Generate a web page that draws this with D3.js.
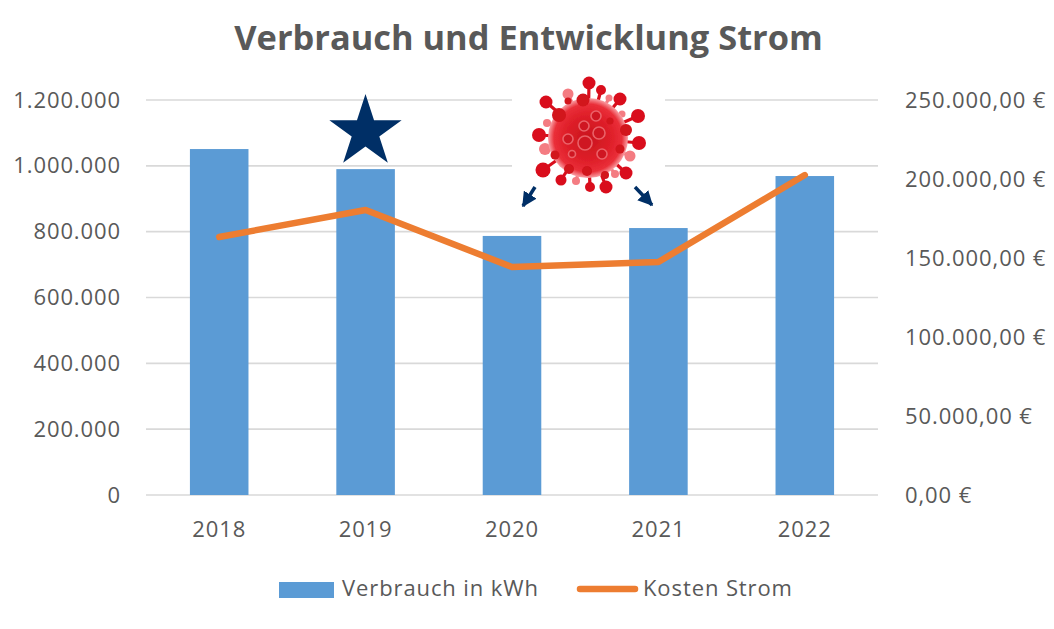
<!DOCTYPE html>
<html>
<head>
<meta charset="utf-8">
<script src="https://cdn.jsdelivr.net/npm/d3@7"></script>
<style>
  html, body { margin: 0; padding: 0; background: #fff; }
  text { font-family: "Open Sans", sans-serif; fill: #595959; }
  .lbl { font-size: 22px; letter-spacing: 0.9px; }
</style>
</head>
<body>
<svg id="chart" width="1054" height="629"></svg>
<script>
const years = ['2018', '2019', '2020', '2021', '2022'];
const verbrauch = [1051000, 990000, 787000, 811000, 969000];
const kosten = [163300, 180400, 144300, 147500, 202500];
const leftTicks = [0, 200000, 400000, 600000, 800000, 1000000, 1200000];
const rightTicks = [0, 50000, 100000, 150000, 200000, 250000];

// virus picture: [x offset, y offset, ball radius, faint] relative to the centre
const outerSpikes = [
  [1, -55, 6.5, 0], [13, -48, 5, 0], [-20, -44, 5.5, 1], [-42, -36, 6.5, 0], [32, -39, 6.5, 0],
  [21, -40, 3.5, 1], [50, -22, 7, 0], [34, -24, 3.5, 1], [-41, -15, 4, 1], [-49, -3, 7, 0],
  [51, 5, 7, 0], [-43, 11, 6, 1], [42, 18, 5.5, 1], [-45, 32, 7.5, 0], [38, 35, 6.5, 0],
  [-27, 42, 5.5, 0], [-12, 43, 4, 1], [2, 49, 5, 0], [18, 49, 6.5, 0], [27, 36, 4, 1]
];
const innerSpikes = [
  [-20, -37, 3.5], [-5, -38, 6.5], [-29, -23, 7], [38, -8, 6], [32, 11, 4.5],
  [-33, 17, 4.5], [-19, 31, 5], [-1, 33, 5], [17, 37, 4], [22, -17, 3.5]
];
const cells = [
  [-4, -12, 5], [11, -5, 6], [-20, 1, 5], [-3, 5, 7], [8, -22, 5], [14, 16, 5], [-16, 16, 3.5]
];

const margin = {top: 100, right: 176, bottom: 134, left: 146};
const width = 1054 - margin.left - margin.right;
const height = 629 - margin.top - margin.bottom;

const de = d3.formatLocale({decimal: ',', thousands: '.', grouping: [3], currency: ['', '\u00a0€']});

const svg = d3.select('#chart');
const defs = svg.append('defs');

const ballGrad = defs.append('radialGradient').attr('id', 'virusBody');
ballGrad.append('stop').attr('offset', '0%').attr('stop-color', '#c9141d');
ballGrad.append('stop').attr('offset', '60%').attr('stop-color', '#e0202a');
ballGrad.append('stop').attr('offset', '85%').attr('stop-color', '#ea2f39');
ballGrad.append('stop').attr('offset', '100%').attr('stop-color', '#f9a0a5');

defs.append('filter').attr('id', 'soft')
  .append('feGaussianBlur').attr('stdDeviation', 0.6);

const chart = svg.append('g').attr('transform', `translate(${margin.left},${margin.top})`);

const xScale = d3.scaleBand().domain(years).range([0, width]).paddingInner(0.6).paddingOuter(0.3);
const yLeft = d3.scaleLinear().domain([0, 1200000]).range([height, 0]);
const yRight = d3.scaleLinear().domain([0, 250000]).range([height, 0]);

// Gridlines
chart.append('g').selectAll('line')
  .data(leftTicks)
  .join('line')
  .attr('x1', 0).attr('x2', width)
  .attr('y1', d => yLeft(d)).attr('y2', d => yLeft(d))
  .attr('stroke', '#d9d9d9').attr('stroke-width', 1.6);

// Axes
const leftAxis = chart.append('g')
  .call(d3.axisLeft(yLeft).tickValues(leftTicks).tickSize(0).tickPadding(25).tickFormat(de.format(',d')));
const rightAxis = chart.append('g')
  .attr('transform', `translate(${width},0)`)
  .call(d3.axisRight(yRight).tickValues(rightTicks).tickSize(0).tickPadding(27).tickFormat(de.format('$,.2f')));
const xAxis = chart.append('g')
  .attr('transform', `translate(0,${height})`)
  .call(d3.axisBottom(xScale).tickSize(0).tickPadding(26));
[leftAxis, rightAxis, xAxis].forEach(a => {
  a.select('.domain').remove();
  a.attr('font-family', null).attr('font-size', null);
  a.selectAll('text').attr('class', 'lbl');
});

// Bars
chart.selectAll('.bar')
  .data(years)
  .join('rect')
  .attr('class', 'bar')
  .attr('x', d => xScale(d))
  .attr('y', (d, i) => yLeft(verbrauch[i]))
  .attr('width', xScale.bandwidth())
  .attr('height', (d, i) => height - yLeft(verbrauch[i]))
  .attr('fill', '#5b9bd5');

// White patch behind the virus, it cuts the gridlines
svg.append('rect').attr('x', 512).attr('y', 85).attr('width', 153).attr('height', 122).attr('fill', '#fff');

// Cost line
const line = d3.line()
  .x((d, i) => xScale(years[i]) + xScale.bandwidth() / 2)
  .y(d => yRight(d));
chart.append('path')
  .attr('d', line(kosten))
  .attr('fill', 'none')
  .attr('stroke', '#ed7d31')
  .attr('stroke-width', 6.5)
  .attr('stroke-linecap', 'round')
  .attr('stroke-linejoin', 'round');

// Star
svg.append('path')
  .attr('d', d3.symbol().type(d3.symbolStar).size(1621)())
  .attr('transform', 'translate(365.5,132)')
  .attr('fill', '#002f66');

// Virus
const virus = svg.append('g').attr('transform', 'translate(588,138)').attr('filter', 'url(#soft)');
const spikeColor = f => f ? '#f47b82' : '#d9111c';
virus.selectAll('.spike')
  .data(outerSpikes.concat(innerSpikes))
  .join('line')
  .attr('class', 'spike')
  .attr('x1', 0).attr('y1', 0)
  .attr('x2', d => d[0]).attr('y2', d => d[1])
  .attr('stroke', d => spikeColor(d[3]))
  .attr('stroke-width', 3.2);
virus.selectAll('.ball')
  .data(outerSpikes)
  .join('circle')
  .attr('class', 'ball')
  .attr('cx', d => d[0]).attr('cy', d => d[1]).attr('r', d => d[2])
  .attr('fill', d => spikeColor(d[3]));
virus.append('circle').attr('r', 40).attr('fill', 'url(#virusBody)');
virus.selectAll('.inner')
  .data(innerSpikes)
  .join('circle')
  .attr('class', 'inner')
  .attr('cx', d => d[0]).attr('cy', d => d[1]).attr('r', d => d[2])
  .attr('fill', '#d2121d');
virus.selectAll('.cell')
  .data(cells)
  .join('circle')
  .attr('class', 'cell')
  .attr('cx', d => d[0]).attr('cy', d => d[1]).attr('r', d => d[2])
  .attr('fill', '#cf1720')
  .attr('stroke', '#f0747b')
  .attr('stroke-opacity', 0.8)
  .attr('stroke-width', 1.6);

// Arrows below the virus
defs.append('marker')
  .attr('id', 'arrowHead')
  .attr('viewBox', '0 0 10 10')
  .attr('refX', 9).attr('refY', 5)
  .attr('markerWidth', 15).attr('markerHeight', 15)
  .attr('markerUnits', 'userSpaceOnUse')
  .attr('orient', 'auto')
  .append('path').attr('d', 'M0,0L10,5L0,10Z').attr('fill', '#002f66');
svg.selectAll('.arrow')
  .data([[535, 187, 523, 206], [635, 187, 652, 205]])
  .join('line')
  .attr('class', 'arrow')
  .attr('x1', d => d[0]).attr('y1', d => d[1])
  .attr('x2', d => d[2]).attr('y2', d => d[3])
  .attr('stroke', '#002f66').attr('stroke-width', 3.5)
  .attr('marker-end', 'url(#arrowHead)');

// Title
svg.append('text')
  .attr('x', 528.5).attr('y', 50)
  .attr('text-anchor', 'middle')
  .style('font-size', '34.4px').style('font-weight', 700)
  .text('Verbrauch und Entwicklung Strom');

// Legend
svg.append('rect').attr('x', 279).attr('y', 582).attr('width', 55).attr('height', 16).attr('fill', '#5b9bd5');
svg.append('text').attr('class', 'lbl').attr('x', 342).attr('y', 596).text('Verbrauch in kWh');
svg.append('line')
  .attr('x1', 580).attr('x2', 635).attr('y1', 589).attr('y2', 589)
  .attr('stroke', '#ed7d31').attr('stroke-width', 6.5).attr('stroke-linecap', 'round');
svg.append('text').attr('class', 'lbl').attr('x', 643).attr('y', 596).text('Kosten Strom');
</script>
</body>
</html>
